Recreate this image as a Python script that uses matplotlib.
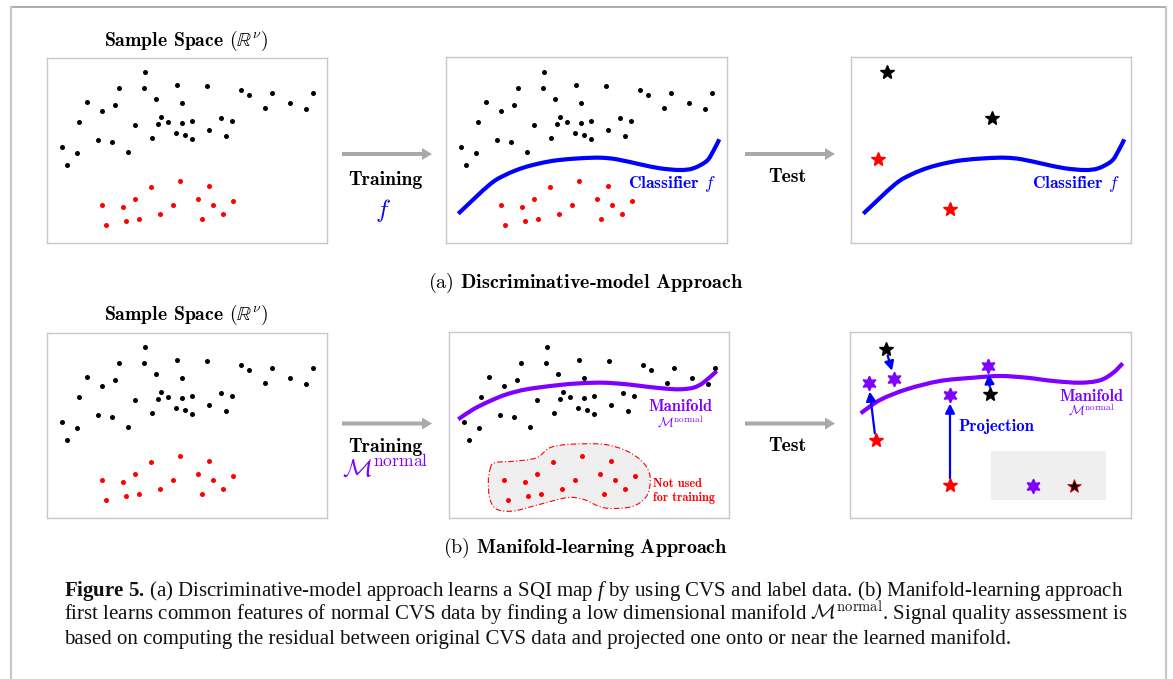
import numpy as np
import matplotlib
matplotlib.use("Agg")
import matplotlib.pyplot as plt
from matplotlib.path import Path
from matplotlib.patches import PathPatch, Rectangle, FancyArrow

plt.rcParams["mathtext.rm"] = "Liberation Serif"
plt.rcParams["mathtext.it"] = "Liberation Serif:italic"
plt.rcParams["mathtext.bf"] = "Liberation Serif:bold"

# ---------------------------------------------------------------- data
# normal (black) samples in the 2-D sketch of the sample space
normal_x = [98, 71.7, 96.7, 129.7, 160, 194.3, 201.7, 225, 265.7, 40, 67.7, 55.3,
            109.3, 135.3, 218.3, 242.7, 259, 32.3, 88.3, 114, 111.3, 121.3, 134.7,
            144.7, 173.7, 185, 162.3, 129, 137.7, 145.3, 178.7, 104.7, 51.3, 65,
            14.7, 29.7, 80.7, 19.7]
normal_y = [171.3, 154.7, 154.7, 158, 157.3, 153, 148, 149.7, 149.7, 141, 137.7, 131.7,
            144, 139.7, 135, 140.3, 134.3, 121.3, 117.7, 125.7, 119.3, 121, 119.7,
            122.3, 125.3, 122.3, 113, 110, 108, 104, 107, 105, 103, 101,
            96.3, 90, 90.7, 78]
# abnormal (red) samples
abnormal_x = [133, 104.3, 162, 88.3, 151.3, 186.3, 54.7, 75.7, 126, 165.7, 113, 175.7,
              92, 79.3, 155.3, 58.7]
abnormal_y = [62, 56, 57.3, 44, 44, 42, 37.7, 35.7, 38, 37.7, 29, 29,
              24.3, 22.3, 24.3, 18]

# decision boundary of the classifier f
classifier_x = [12.3, 44, 60.7, 77.3, 94, 110.7, 134, 154, 170.7, 194, 214, 234,
                247.3, 260.7, 267.3, 273.3]
classifier_y = [29.3, 58.7, 68.7, 75.3, 79.7, 82.7, 84.7, 85.3, 83.7, 78.7, 74.7, 73,
                74.7, 82, 92, 103.7]

# learned manifold (training panel and test panel)
manifold_train_x = [9.3, 24.3, 41, 57.7, 77.7, 107.7, 131, 154.3, 177.7, 197.7, 217.7,
                    231, 244.3, 254.3, 267.7]
manifold_train_y = [98.7, 108.7, 117, 123.7, 128.7, 132.7, 134.7, 135.3, 133.7, 131.3,
                    129.3, 128.7, 130.3, 135.3, 147]
manifold_test_x = [10.7, 30, 56.7, 90, 123.3, 150, 176.7, 203.3, 230, 250, 263.3, 272.7]
manifold_test_y = [104.7, 118, 128.7, 137, 140.3, 142, 140.3, 137, 135.3, 137.7,
                   145.3, 154.7]

# region of abnormal data excluded from training
excluded_x = [41, 46, 67.7, 87.7, 101, 121, 154.3, 177.7, 194.3, 201, 199.3, 191,
              177.7, 154.3, 134.3, 117.7, 91, 64.3, 47.7, 41, 39.3]
excluded_y = [48.7, 55.3, 57, 60.3, 70.3, 73.7, 73.7, 67, 55.3, 42, 25.3, 15.3,
              10.3, 10.3, 18.7, 20.3, 13.7, 7, 8.7, 18.7, 35.3]

# test samples for the discriminative model
test_normal_x = [35.7, 141.3]
test_normal_y = [171.3, 124.7]
test_abnormal_x = [27.3, 99]
test_abnormal_y = [83.7, 33.7]

# test samples and their projections onto the manifold
proj_src_x = [35.7, 140.3, 25.7, 100]
proj_src_y = [169.3, 124.3, 77.7, 32.7]
proj_src_kind = ["normal", "normal", "abnormal", "abnormal"]
proj_dst_x = [44.3, 138, 18.7, 100]
proj_dst_y = [139.3, 152, 134.7, 122.7]

# legend-like inset of the test panel
inset_x0, inset_x1, inset_y0, inset_y1 = 140.7, 255.7, 17.7, 67
inset_proj = (182.7, 32)
inset_sample = (224.3, 31.7)

BLUE = "#0000ff"
RED = "#ff0000"
VIOLET = "#7f00ff"
FRAME = "#c8c8c8"
ARROW_GRAY = "#a9a9a9"

W, H = 1173, 679
fig = plt.figure(figsize=(W / 100, H / 100), dpi=100)

# full-figure layer in pixel units for frame, arrows and captions
bg = fig.add_axes([0, 0, 1, 1], zorder=0)
bg.set_xlim(0, W)
bg.set_ylim(H, 0)
bg.axis("off")

bg.plot([11, 1166], [6.5, 6.5], color="#a0a0a0", lw=1.2, solid_capstyle="butt")
bg.plot([11, 11], [6.5, H], color=FRAME, lw=1.6)
bg.plot([1166, 1166], [6.5, H], color=FRAME, lw=1.6)


def smooth_path(xs, ys, closed=False):
    pts = np.column_stack([xs, ys]).astype(float)
    if closed:
        P = np.vstack([pts[-1], pts, pts[0], pts[1]])
    else:
        P = np.vstack([pts[0], pts, pts[-1]])
    verts = [P[1]]
    codes = [Path.MOVETO]
    for i in range(1, len(P) - 2):
        p0, p1, p2, p3 = P[i - 1], P[i], P[i + 1], P[i + 2]
        verts += [p1 + (p2 - p0) / 6.0, p2 - (p3 - p1) / 6.0, p2]
        codes += [Path.CURVE4] * 3
    if closed:
        verts.append(P[1])
        codes.append(Path.CLOSEPOLY)
    return Path(verts, codes)


def panel(x0, y0, x1, y1):
    ax = fig.add_axes([x0 / W, 1 - y1 / H, (x1 - x0) / W, (y1 - y0) / H], zorder=2)
    ax.set_xlim(0, x1 - x0)
    ax.set_ylim(0, y1 - y0)
    ax.set_xticks([])
    ax.set_yticks([])
    for s in ax.spines.values():
        s.set_color(FRAME)
        s.set_linewidth(1.0)
    return ax


def scatter_samples(ax):
    ax.scatter(normal_x, normal_y, s=13, color="black", linewidths=0, zorder=3)
    ax.scatter(abnormal_x, abnormal_y, s=13, color=RED, linewidths=0, zorder=3)


def draw_curve(ax, xs, ys, color):
    ax.add_patch(PathPatch(smooth_path(xs, ys), facecolor="none", edgecolor=color,
                           lw=3.0, capstyle="butt", zorder=2))


CM_B = "cmb10"
STAR = dict(marker="*", markersize=10, linestyle="none", zorder=4)
HEX = dict(marker=(6, 1, 0), markersize=10.5, linestyle="none", zorder=4)

# ------------------------------------------------ (a) discriminative model
a1 = panel(47, 58, 327, 243)
scatter_samples(a1)

a2 = panel(446, 57, 727, 243)
scatter_samples(a2)
draw_curve(a2, classifier_x, classifier_y, BLUE)
a2.text(226.3, 58.7, r"Classifier $f$", color=BLUE, family=CM_B, fontsize=12.6,
        math_fontfamily="cm", ha="center", va="center")

a3 = panel(851, 57, 1131, 243)
draw_curve(a3, classifier_x, classifier_y, BLUE)
a3.plot(test_normal_x, test_normal_y, color="black", **STAR)
a3.plot(test_abnormal_x, test_abnormal_y, color=RED, **STAR)
a3.text(225.3, 58.7, r"Classifier $f$", color=BLUE, family=CM_B, fontsize=12.6,
        math_fontfamily="cm", ha="center", va="center")

# ---------------------------------------------------- (b) manifold learning
b1 = panel(47, 333, 327, 518)
scatter_samples(b1)

b2 = panel(449, 332, 729, 518)
b2.add_patch(PathPatch(smooth_path(excluded_x, excluded_y, closed=True),
                       facecolor="#efefef", edgecolor=RED, lw=0.8,
                       linestyle=(0, (5, 2, 1, 2)), zorder=1))
scatter_samples(b2)
draw_curve(b2, manifold_train_x, manifold_train_y, VIOLET)
b2.text(231.7, 111, "Manifold", color=VIOLET, family=CM_B, fontsize=11.8,
        ha="center", va="center")
b2.text(231.7, 96.3, r"$\mathcal{M}^{\mathrm{normal}}$", color=VIOLET, fontsize=9.5,
        math_fontfamily="cm", ha="center", va="center")
b2.text(204.3, 33.7, "Not used", color=RED, family=CM_B, fontsize=8.8, ha="left",
        va="center")
b2.text(204.3, 20.3, "for training", color=RED, family=CM_B, fontsize=8.8, ha="left",
        va="center")

b3 = panel(850, 332, 1131, 518)
draw_curve(b3, manifold_test_x, manifold_test_y, VIOLET)
for sx, sy, kind, dx, dy in zip(proj_src_x, proj_src_y, proj_src_kind,
                                proj_dst_x, proj_dst_y):
    b3.annotate("", xy=(dx, dy), xytext=(sx, sy),
                arrowprops=dict(arrowstyle="-|>,head_length=0.55,head_width=0.28",
                                color=BLUE, lw=1.6, shrinkA=5, shrinkB=6),
                zorder=3)
    b3.plot([sx], [sy], color="black" if kind == "normal" else RED, **STAR)
    b3.plot([dx], [dy], color=VIOLET, **HEX)
b3.add_patch(Rectangle((inset_x0, inset_y0), inset_x1 - inset_x0, inset_y1 - inset_y0,
                       facecolor="#efefef", edgecolor="none", zorder=1))
b3.plot([inset_proj[0]], [inset_proj[1]], color=VIOLET, **HEX)
b3.plot([inset_sample[0]], [inset_sample[1]], mfc="#1a0000", mec=RED, mew=0.5,
        **STAR)
b3.text(241, 121, "Manifold", color=VIOLET, family=CM_B, fontsize=11.8,
        ha="center", va="center")
b3.text(241, 107.7, r"$\mathcal{M}^{\mathrm{normal}}$", color=VIOLET, fontsize=9.5,
        math_fontfamily="cm", ha="center", va="center")
b3.text(146.7, 91.3, "Projection", color=BLUE, family=CM_B, fontsize=12,
        ha="center", va="center")

# ------------------------------------------------ arrows and stage labels
for yc in (154, 423.5):
    for x0 in (342, 745):
        bg.add_patch(FancyArrow(x0, yc, 90, 0, width=4, head_width=12,
                                head_length=10, length_includes_head=True,
                                color=ARROW_GRAY, lw=0))

bg.text(385, 180, "Training", family=CM_B, fontsize=14.2, ha="center", va="center")
bg.text(383, 211, r"$f$", color=BLUE, fontsize=18, math_fontfamily="cm",
        ha="center", va="center")
bg.text(787, 177, "Test", family=CM_B, fontsize=14.2, ha="center", va="center")
bg.text(385, 447, "Training", family=CM_B, fontsize=14.2, ha="center", va="center")
bg.text(385, 468, r"$\mathcal{M}^{\mathrm{normal}}$", color=VIOLET, fontsize=18,
        math_fontfamily="cm", ha="center", va="center")
bg.text(787, 446, "Test", family=CM_B, fontsize=14.2, ha="center", va="center")

for yc in (41, 315):
    bg.text(186, yc, r"Sample Space $(\mathbb{R}^{\nu})$", family=CM_B, fontsize=14.2,
            math_fontfamily="cm", ha="center", va="center")

bg.text(586, 283, r"$\mathrm{(a)}$ Discriminative-model Approach", family=CM_B,
        fontsize=14.5, math_fontfamily="cm", ha="center", va="center")
bg.text(586, 548, r"$\mathrm{(b)}$ Manifold-learning Approach", family=CM_B,
        fontsize=14.5, math_fontfamily="cm", ha="center", va="center")

# ----------------------------------------------------------- figure caption
CAP = dict(family="Liberation Serif", fontsize=15.0, ha="left", va="baseline",
           color="#111111")
bg.text(64, 596, r"$\mathbf{Figure\ 5.}\,$(a) Discriminative-model approach learns a SQI "
        r"map $\mathit{f}$ by using CVS and label data. (b) Manifold-learning approach",
        math_fontfamily="custom", **CAP)
bg.text(64, 620, r"first learns common features of normal CVS data by finding a low "
        r"dimensional manifold $\mathcal{M}^{\mathrm{normal}}$. Signal quality "
        r"assessment is", math_fontfamily="cm", **CAP)
bg.text(64, 644, "based on computing the residual between original CVS data and "
        "projected one onto or near the learned manifold.", **CAP)

fig.savefig("out.png", dpi=100)
